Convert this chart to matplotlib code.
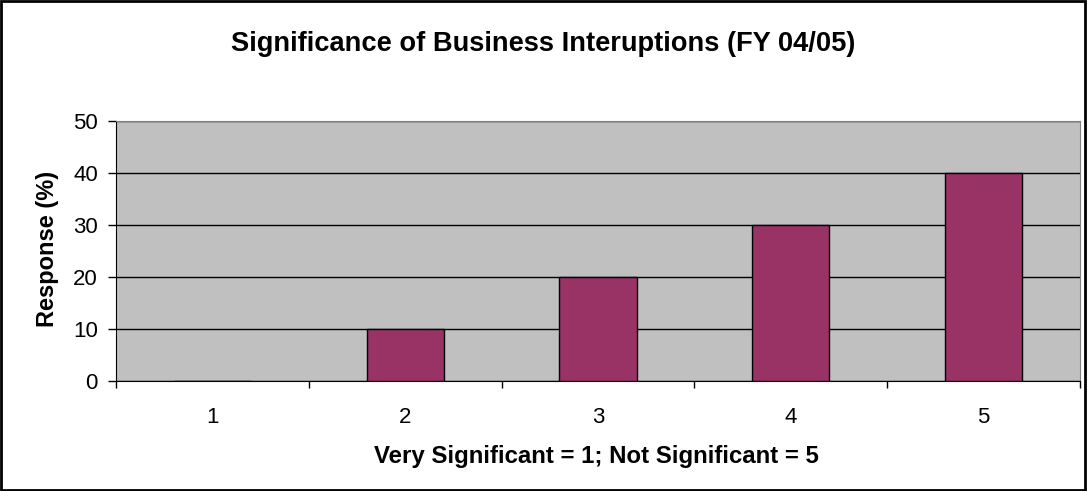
import matplotlib.pyplot as plt
from matplotlib.patches import Rectangle

categories = ["1", "2", "3", "4", "5"]
responses = [0, 10, 20, 30, 40]

plt.rcParams['font.family'] = ['Liberation Sans', 'DejaVu Sans']

fig = plt.figure(figsize=(10.87, 4.91), dpi=100)
fig.patches.append(Rectangle((0.001, 0.002), 0.997, 0.996, transform=fig.transFigure,
                             fill=False, edgecolor="black", linewidth=2))
ax = fig.add_axes([0.1067, 0.224, 0.8869, 0.5296])
ax.set_facecolor("#C0C0C0")

xs = list(range(1, len(categories) + 1))
ax.bar(xs, responses, width=0.4, color="#993366", edgecolor="black", linewidth=1, zorder=3)

ax.set_xlim(0.5, 5.5)
ax.set_ylim(0, 50)
ax.set_yticks([0, 10, 20, 30, 40, 50])
ax.yaxis.grid(True, color="black", linewidth=1)
ax.set_axisbelow(True)

ax.set_xticks(xs)
ax.set_xticklabels(categories)
ax.set_xticks([0.5, 1.5, 2.5, 3.5, 4.5, 5.5], minor=True)
ax.tick_params(axis="x", which="major", length=0, pad=19, labelsize=16)
ax.tick_params(axis="x", which="minor", length=5, width=1, direction="out")
ax.tick_params(axis="y", length=6, width=1, labelsize=16, pad=7)

for side in ["top", "right"]:
    ax.spines[side].set_color("#808080")
for side in ["left", "bottom"]:
    ax.spines[side].set_color("black")

fig.text(0.044, 0.494, "Response (%)", rotation=90, ha="center", va="center",
         fontsize=17, fontweight="bold")
fig.text(0.549, 0.057, "Very Significant = 1; Not Significant = 5",
         ha="center", va="baseline", fontsize=17.3, fontweight="bold")
fig.text(0.5, 0.897, "Significance of Business Interuptions (FY 04/05)",
         ha="center", va="baseline", fontsize=19.6, fontweight="bold")

plt.savefig("out.png", dpi=100)
